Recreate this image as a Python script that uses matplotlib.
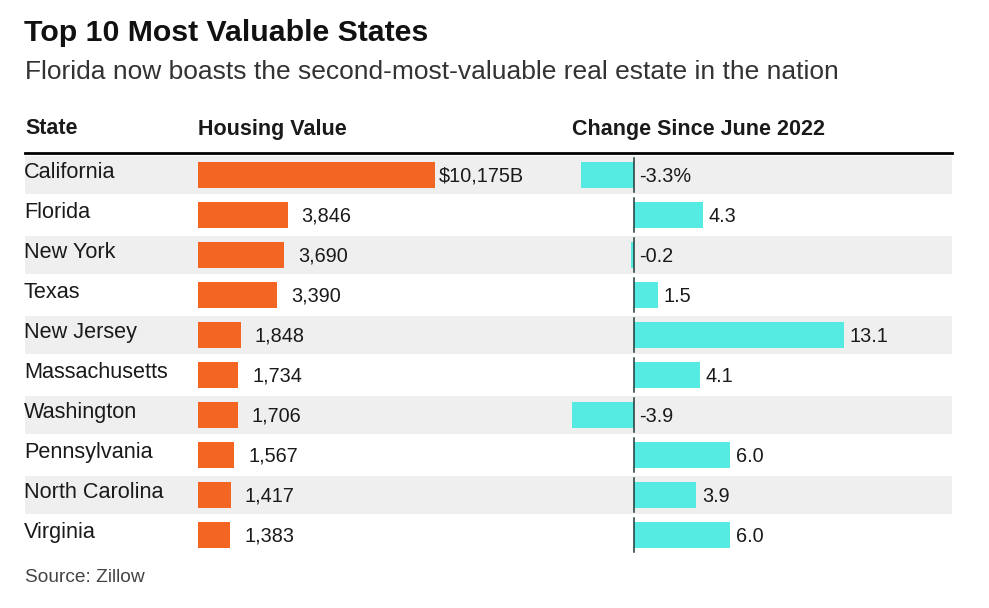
import matplotlib
matplotlib.use("Agg")
import matplotlib.pyplot as plt

plt.rcParams["font.family"] = ["Liberation Sans", "DejaVu Sans"]

states = ["California", "Florida", "New York", "Texas", "New Jersey",
          "Massachusetts", "Washington", "Pennsylvania", "North Carolina", "Virginia"]
housing_value = [10175, 3846, 3690, 3390, 1848, 1734, 1706, 1567, 1417, 1383]
change_pct = [-3.3, 4.3, -0.2, 1.5, 13.1, 4.1, -3.9, 6.0, 3.9, 6.0]

W, H = 989, 608
ORANGE = "#f26522"
CYAN = "#55ebe2"
TEXT = "#1a1a1a"

fig = plt.figure(figsize=(W / 100, H / 100), dpi=100)
fig.patch.set_facecolor("white")


def px_axes(x0, y0, x1, y1):
    # pixel box (top-left origin) -> figure axes
    ax = fig.add_axes([x0 / W, 1 - y1 / H, (x1 - x0) / W, (y1 - y0) / H])
    ax.set_axis_off()
    return ax


n = len(states)
row_top, row_h = 155, 40
row_bot = row_top + n * row_h

# table background: shaded rows + state names
tab = px_axes(25, row_top, 952, row_bot)
tab.set_xlim(25, 952)
tab.set_ylim(n - 0.5, -0.5)
for i, s in enumerate(states):
    if i % 2 == 0:
        tab.axhspan(i - 0.48, i + 0.48, color="#efefef", lw=0)
    tab.text(24, i - 0.06, s, ha="left", va="center", fontsize=15.6, color=TEXT)

# housing value bars
hv = px_axes(198, row_top, 198 + 400, row_bot)
scale = 237 / housing_value[0]
hv.set_xlim(0, 400 / scale)
hv.set_ylim(n - 0.5, -0.5)
hv.barh(range(n), housing_value, height=0.65, color=ORANGE)
for i, v in enumerate(housing_value):
    lab = f"${v:,}B" if i == 0 else f"{v:,}"
    off = 3 if i == 0 else 10
    hv.annotate(lab, (v, i), xytext=(off, -1), textcoords="offset points",
                ha="left", va="center", fontsize=14.3, color=TEXT)

# change since June 2022 bars
x0, x1, zero, ppu = 560, 940, 634, 16
ch = px_axes(x0, row_top, x1, row_bot)
ch.set_xlim((x0 - zero) / ppu, (x1 - zero) / ppu)
ch.set_ylim(n - 0.5, -0.5)
ch.barh(range(n), change_pct, height=0.65, color=CYAN)
for i, v in enumerate(change_pct):
    ch.plot([0, 0], [i - 0.42, i + 0.42], color="#1f3b3a", lw=1.1)
    lab = f"{v:.1f}%" if i == 0 else f"{v:.1f}"
    ch.annotate(lab, (max(v, 0), i), xytext=(4, -1), textcoords="offset points",
                ha="left", va="center", fontsize=14.3, color=TEXT)

# titles and headers
fig.text(24 / W, 1 - 33 / H, "Top 10 Most Valuable States", fontsize=21.8,
         fontweight="bold", color="#111111", ha="left", va="center")
fig.text(25 / W, 1 - 72 / H, "Florida now boasts the second-most-valuable real estate in the nation",
         fontsize=19, color="#333333", ha="left", va="center")
for x, h in [(25, "State"), (198, "Housing Value"), (572, "Change Since June 2022")]:
    fig.text(x / W, 1 - 129 / H, h, fontsize=15.5, fontweight="bold",
             color=TEXT, ha="left", va="center")
fig.add_artist(plt.Line2D([25 / W, 952 / W], [1 - 153 / H, 1 - 153 / H],
                          color="black", lw=2))
fig.text(25 / W, 1 - 578 / H, "Source: Zillow", fontsize=13.8,
         color="#444444", ha="left", va="center")

fig.savefig("out.png", dpi=100, facecolor="white")
